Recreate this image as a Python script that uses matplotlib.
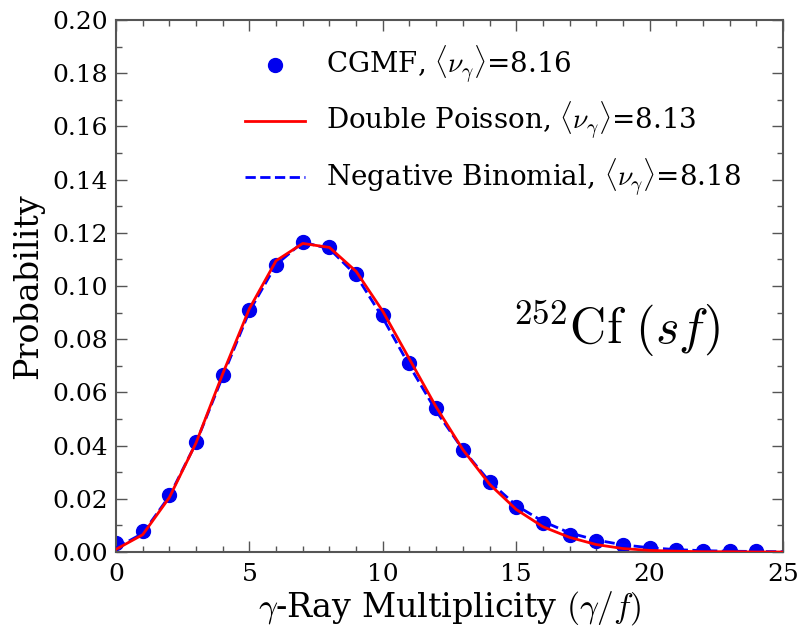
import numpy as np
import matplotlib
matplotlib.use('Agg')
from matplotlib import pyplot as plt
from matplotlib.ticker import MultipleLocator

# CGMF points
mult = list(range(25))
cgmf = [0.0035, 0.008, 0.0215, 0.0415, 0.0665, 0.091, 0.108, 0.1165, 0.1145, 0.1045,
        0.089, 0.071, 0.054, 0.0385, 0.0265, 0.017, 0.011, 0.0065, 0.004, 0.0025,
        0.0015, 0.0008, 0.0005, 0.0003, 0.0002]

# fitted distributions
fit_x = list(range(26))
double_poisson = [0.001, 0.0065, 0.0205, 0.041, 0.067, 0.0915, 0.1095, 0.116, 0.1145, 0.1055,
                  0.0905, 0.0725, 0.0545, 0.0385, 0.0255, 0.016, 0.0095, 0.0055, 0.0028, 0.0013,
                  0.0006, 0.0003, 0.0001, 0.0001, 0.0, 0.0]
neg_binomial = [0.0015, 0.007, 0.021, 0.041, 0.066, 0.0905, 0.108, 0.1165, 0.114, 0.104,
                0.088, 0.070, 0.053, 0.0385, 0.0265, 0.0175, 0.0115, 0.0072, 0.0045, 0.0027,
                0.0016, 0.0009, 0.0005, 0.0003, 0.0002, 0.0001]

labels = [r'CGMF, $\langle\nu_\gamma\rangle$=8.16',
          r'Double Poisson, $\langle\nu_\gamma\rangle$=8.13',
          r'Negative Binomial, $\langle\nu_\gamma\rangle$=8.18']

plt.rcParams['font.family'] = 'DejaVu Serif'
plt.rcParams['mathtext.fontset'] = 'cm'

fig = plt.figure(figsize=(8.01, 6.30), dpi=100)
ax = fig.add_axes([116 / 801, 1 - 552 / 630, 667 / 801, 532 / 630])

ax.plot(mult, cgmf, 'o', color='#0000ee', markersize=10, label=labels[0], zorder=2)
ax.plot(fit_x, neg_binomial, '--', color='#0000ff', lw=2, label=labels[2], zorder=3)
ax.plot(fit_x, double_poisson, '-', color='#ff0000', lw=2, label=labels[1], zorder=4)

ax.set_xlim(0, 25)
ax.set_ylim(0, 0.20)
ax.xaxis.set_major_locator(MultipleLocator(5))
ax.xaxis.set_minor_locator(MultipleLocator(1))
ax.yaxis.set_major_locator(MultipleLocator(0.02))
ax.yaxis.set_minor_locator(MultipleLocator(0.01))
ax.yaxis.set_major_formatter(matplotlib.ticker.FormatStrFormatter('%.2f'))
ax.tick_params(which='both', direction='in', top=True, right=True, colors='#555555',
               labelcolor='black', labelsize=18)
ax.tick_params(which='major', length=8, width=1)
ax.tick_params(which='minor', length=4, width=1)
ax.tick_params(axis='x', pad=8)
ax.tick_params(axis='y', pad=6)
for s in ax.spines.values():
    s.set_color('#555555')
    s.set_linewidth(1.5)

ax.set_xlabel(r'$\gamma$-Ray Multiplicity $(\gamma/f)$', fontsize=24, labelpad=2)
ax.set_ylabel('Probability', fontsize=24, labelpad=6)

handles, labs = ax.get_legend_handles_labels()
order = [0, 2, 1]
ax.legend([handles[i] for i in order], [labs[i] for i in order], loc='upper left',
          bbox_to_anchor=((245 - 116) / 667, 0.955), borderaxespad=0, borderpad=0,
          frameon=False, fontsize=20, numpoints=1,
          labelspacing=0.5, handlelength=2.15, handletextpad=0.75)

ax.text(0.749, 0.42, r'$^{252}\mathrm{Cf}\ (sf)$', transform=ax.transAxes,
        fontsize=36, ha='center', va='center')

fig.savefig('out.png', dpi=100)
